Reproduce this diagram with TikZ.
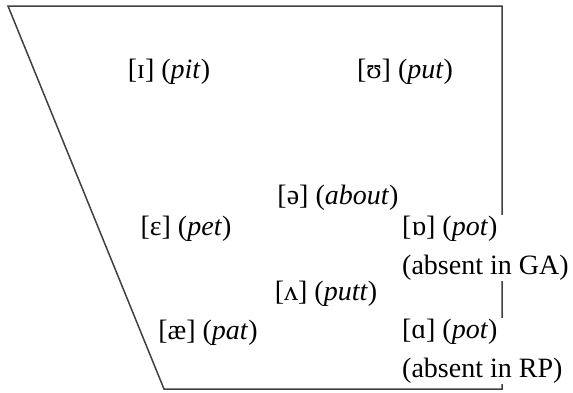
\documentclass[tikz,border=0pt]{standalone}
\usepackage{fontspec}
\setmainfont{Liberation Serif}
\begin{document}
\begin{tikzpicture}[x=1pt,y=-1pt,
  vowel/.style={font=\fontsize{28}{33}\selectfont, inner sep=1pt},
  note/.style={font=\fontsize{28}{39}\selectfont, inner sep=1pt, fill=white, align=left, anchor=west},
  edge/.style={draw=black!75, line width=1.5pt}]
\useasboundingbox (0,0) rectangle (573,392);
\coordinate (tl) at (8,6);
\coordinate (tr) at (502,6);
\coordinate (br) at (502,389);
\coordinate (bl) at (164,389);
\draw[edge] (tl) -- (tr) -- (br) -- (bl) -- cycle;
\node[vowel] (i) at (169,72) {[ɪ] (\textit{pit})};
\node[vowel] (u) at (405,72) {[ʊ] (\textit{put})};
\node[vowel] (schwa) at (338,198) {[ə] (\textit{about})};
\node[vowel] (e) at (186,229) {[ɛ] (\textit{pet})};
\node[vowel] (wedge) at (326,294) {[ʌ] (\textit{putt})};
\node[vowel] (ae) at (208,333) {[æ] (\textit{pat})};
\node[note] (o) at (401,248) {[ɒ] (\textit{pot})\\(absent in GA)};
\node[note] (a) at (401,351) {[ɑ] (\textit{pot})\\(absent in RP)};
\end{tikzpicture}
\end{document}
